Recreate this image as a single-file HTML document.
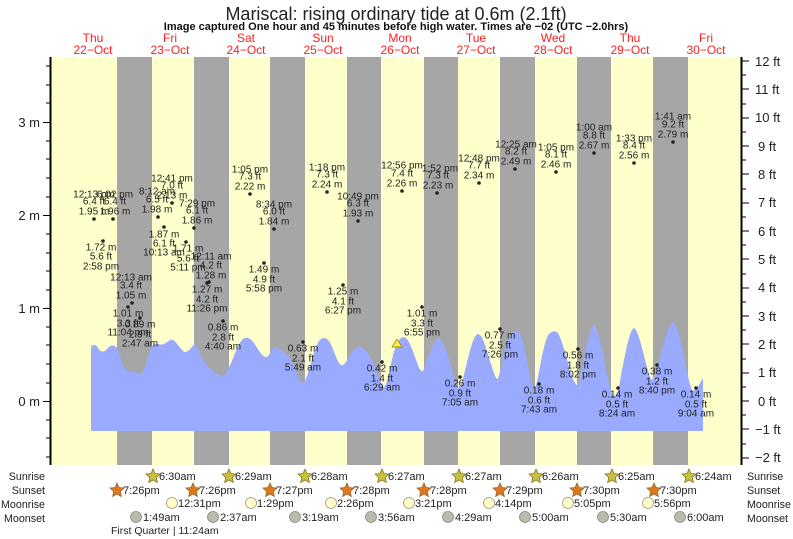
<!DOCTYPE html>
<html><head><meta charset="utf-8"><style>
body{margin:0;background:#fff}
svg{display:block;font-family:"Liberation Sans",sans-serif}
</style></head><body>
<svg width="793" height="539" viewBox="0 0 793 539" xmlns="http://www.w3.org/2000/svg">
<rect x="0" y="0" width="793" height="539" fill="#fff"/>
<text x="396" y="20" font-size="18" text-anchor="middle" fill="#222">Mariscal: rising  ordinary tide at 0.6m (2.1ft)</text>
<text x="396" y="30" font-size="11" font-weight="bold" text-anchor="middle" fill="#111">Image captured One hour and 45 minutes before high water. Times are −02 (UTC −2.0hrs)</text>
<g font-size="12" fill="#ff2020" text-anchor="middle">
<text x="93" y="42">Thu</text><text x="93" y="54">22−Oct</text>
<text x="170" y="42">Fri</text><text x="170" y="54">23−Oct</text>
<text x="246" y="42">Sat</text><text x="246" y="54">24−Oct</text>
<text x="323" y="42">Sun</text><text x="323" y="54">25−Oct</text>
<text x="400" y="42">Mon</text><text x="400" y="54">26−Oct</text>
<text x="476" y="42">Tue</text><text x="476" y="54">27−Oct</text>
<text x="553" y="42">Wed</text><text x="553" y="54">28−Oct</text>
<text x="630" y="42">Thu</text><text x="630" y="54">29−Oct</text>
<text x="706" y="42">Fri</text><text x="706" y="54">30−Oct</text>
</g>
<rect x="50" y="57" width="692" height="408" fill="#ffffcc"/>
<g fill="#a6a6a6">
<rect x="117" y="57" width="35" height="408"/>
<rect x="194" y="57" width="35" height="408"/>
<rect x="270" y="57" width="35" height="408"/>
<rect x="347" y="57" width="34" height="408"/>
<rect x="424" y="57" width="34" height="408"/>
<rect x="500" y="57" width="35" height="408"/>
<rect x="577" y="57" width="34" height="408"/>
<rect x="653" y="57" width="35" height="408"/>
</g>
<path fill="#99aaff" d="M91,431 L91,347 C93,344 96,344 98,348 C100,352 104,353 107,349 C110,345 114,344 117,348 C120,355 122,366 126,370 C130,373 133,371 136,372 C139,374 141,376 144,370 C147,362 149,350 153,345 C157,342 160,346 164,344 C168,342 170,339 173,340 C177,342 181,351 185,352 C189,352 191,347 195,344 C199,350 202,360 207,365 C212,370 218,377 223,376 C230,372 236,345 243,339 C247,336 250,338 254,343 C258,349 263,358 267,357 C270,355 271,349 274,348 C279,347 284,352 288,356 C294,360 298,382 303,383 C308,382 314,343 321,339 C326,336 330,340 334,352 C338,362 340,366 343,365 C347,363 352,349 358,347 C364,346 370,355 375,367 C379,377 381,386 384,387 C388,386 392,352 397,344 C399,340 401,337 404,337 C409,338 413,352 417,362 C419,369 421,372 423,371 C426,366 432,340 438,338 C444,338 451,366 454,377 C456,385 458,388 460,387 C465,378 471,335 478,334 C485,334 492,374 497,379 C500,379 503,352 508,340 C512,332 515,331 518,331 C524,333 530,384 534,390 C537,391 543,340 549,334 C552,331 554,331 557,332 C563,337 571,382 577,385 C582,382 587,330 594,325 C600,327 607,381 612,394 C614,398 616,396 618,391 C622,374 628,330 634,328 C640,330 647,375 652,380 C656,379 666,325 673,322 C680,325 687,380 692,390 C695,393 699,385 703,378 L703,431 Z"/>
<g stroke="#000" stroke-width="1">
<line x1="50.5" y1="57" x2="50.5" y2="465" stroke-width="2"/>
<line x1="741.5" y1="57" x2="741.5" y2="465" stroke-width="2"/>
<line x1="43" y1="122.5" x2="50" y2="122.5"/><line x1="43" y1="215.5" x2="50" y2="215.5"/><line x1="43" y1="308.5" x2="50" y2="308.5"/><line x1="43" y1="401.5" x2="50" y2="401.5"/>
<path d="M46,66h4M46,85h4M46,103h4M46,141h4M46,159h4M46,178h4M46,197h4M46,234h4M46,253h4M46,271h4M46,290h4M46,327h4M46,345h4M46,364h4M46,383h4M46,420h4M46,438h4M46,457h4"/>
<path d="M742,61h7M742,89h7M742,118h7M742,146h7M742,174h7M742,203h7M742,231h7M742,259h7M742,288h7M742,316h7M742,344h7M742,373h7M742,401h7M742,429h7M742,458h7"/>
<path d="M742,75h4M742,104h4M742,132h4M742,160h4M742,189h4M742,217h4M742,245h4M742,274h4M742,302h4M742,330h4M742,359h4M742,387h4M742,415h4M742,444h4"/>
</g>
<g font-size="13" fill="#222" text-anchor="end">
<text x="40" y="127">3 m</text><text x="40" y="220">2 m</text><text x="40" y="313">1 m</text><text x="40" y="406">0 m</text>
</g>
<g font-size="13" fill="#222">
<text x="755" y="66">12 ft</text><text x="755" y="94">11 ft</text><text x="755" y="122">10 ft</text><text x="758" y="151">9 ft</text><text x="758" y="179">8 ft</text><text x="758" y="207">7 ft</text><text x="758" y="236">6 ft</text><text x="758" y="264">5 ft</text><text x="758" y="292">4 ft</text><text x="758" y="321">3 ft</text><text x="758" y="349">2 ft</text><text x="758" y="377">1 ft</text><text x="758" y="406">0 ft</text><text x="755" y="434">−1 ft</text><text x="755" y="462">−2 ft</text>
</g>
<polygon points="397,339 392,347 402,347" fill="#ffee44" stroke="#887700" stroke-width="0.7"/>
<g font-size="10" fill="#222" text-anchor="middle" dominant-baseline="central">
<g>
<circle cx="94" cy="219" r="1.8"/><text x="94" y="195">12:13 pm</text><text x="94" y="202">6.4 ft</text><text x="94" y="212">1.95 m</text>
<circle cx="113" cy="219" r="1.8"/><text x="115" y="195">6:02 pm</text><text x="115" y="202">6.4 ft</text><text x="115" y="212">1.96 m</text>
<circle cx="158" cy="217" r="1.8"/><text x="157" y="192">8:12 am</text><text x="157" y="200">6.5 ft</text><text x="157" y="210">1.98 m</text>
<circle cx="172" cy="203" r="1.8"/><text x="172" y="179">12:41 pm</text><text x="172" y="186">7.0 ft</text><text x="172" y="196">2.13 m</text>
<circle cx="194" cy="228" r="1.8"/><text x="197" y="204">7:29 pm</text><text x="197" y="211">6.1 ft</text><text x="197" y="221">1.86 m</text>
<circle cx="250" cy="194" r="1.8"/><text x="250" y="170">1:05 pm</text><text x="250" y="177">7.3 ft</text><text x="250" y="187">2.22 m</text>
<circle cx="274" cy="229" r="1.8"/><text x="274" y="205">8:34 pm</text><text x="274" y="212">6.0 ft</text><text x="274" y="222">1.84 m</text>
<circle cx="327" cy="192" r="1.8"/><text x="327" y="168">1:18 pm</text><text x="327" y="175">7.3 ft</text><text x="327" y="185">2.24 m</text>
<circle cx="358" cy="221" r="1.8"/><text x="358" y="197">10:49 pm</text><text x="358" y="204">6.3 ft</text><text x="358" y="214">1.93 m</text>
<circle cx="402" cy="191" r="1.8"/><text x="402" y="166">12:56 pm</text><text x="402" y="174">7.4 ft</text><text x="402" y="184">2.26 m</text>
<circle cx="437" cy="193" r="1.8"/><text x="440" y="169">1:52 pm</text><text x="438" y="176">7.3 ft</text><text x="438" y="186">2.23 m</text>
<circle cx="479" cy="183" r="1.8"/><text x="479" y="159">12:48 pm</text><text x="479" y="166">7.7 ft</text><text x="479" y="176">2.34 m</text>
<circle cx="515" cy="169" r="1.8"/><text x="516" y="145">12:25 am</text><text x="516" y="152">8.2 ft</text><text x="516" y="162">2.49 m</text>
<circle cx="556" cy="172" r="1.8"/><text x="556" y="148">1:05 pm</text><text x="556" y="155">8.1 ft</text><text x="556" y="165">2.46 m</text>
<circle cx="594" cy="153" r="1.8"/><text x="594" y="128">1:00 am</text><text x="594" y="136">8.8 ft</text><text x="594" y="146">2.67 m</text>
<circle cx="634" cy="163" r="1.8"/><text x="634" y="139">1:33 pm</text><text x="634" y="146">8.4 ft</text><text x="634" y="156">2.56 m</text>
<circle cx="673" cy="142" r="1.8"/><text x="673" y="117">1:41 am</text><text x="673" y="125">9.2 ft</text><text x="673" y="135">2.79 m</text>
<circle cx="132" cy="303" r="1.8"/><text x="131" y="278">12:13 am</text><text x="131" y="286">3.4 ft</text><text x="131" y="296">1.05 m</text>
<circle cx="209" cy="282" r="1.8"/><text x="211" y="257">12:11 am</text><text x="211" y="266">4.2 ft</text><text x="211" y="276">1.28 m</text>
</g>
<g>
<circle cx="103" cy="241" r="1.8"/><text x="101" y="248">1.72 m</text><text x="101" y="257">5.6 ft</text><text x="101" y="267">2:58 pm</text>
<circle cx="164" cy="227" r="1.8"/><text x="164" y="235">1.87 m</text><text x="164" y="244">6.1 ft</text><text x="164" y="253">10:13 am</text>
<circle cx="186" cy="242" r="1.8"/><text x="188" y="249">1.71 m</text><text x="188" y="259">5.6 ft</text><text x="188" y="268">5:11 pm</text>
<circle cx="128" cy="307" r="1.8"/><text x="128" y="314">1.01 m</text><text x="128" y="324">3.3 ft</text><text x="128" y="333">11:04 pm</text>
<circle cx="140" cy="318" r="1.8"/><text x="140" y="325">0.89 m</text><text x="140" y="335">2.9 ft</text><text x="140" y="344">2:47 am</text>
<circle cx="207" cy="283" r="1.8"/><text x="207" y="290">1.27 m</text><text x="207" y="300">4.2 ft</text><text x="207" y="309">11:26 pm</text>
<circle cx="223" cy="321" r="1.8"/><text x="223" y="328">0.86 m</text><text x="223" y="338">2.8 ft</text><text x="223" y="347">4:40 am</text>
<circle cx="264" cy="263" r="1.8"/><text x="264" y="270">1.49 m</text><text x="264" y="280">4.9 ft</text><text x="264" y="289">5:58 pm</text>
<circle cx="303" cy="342" r="1.8"/><text x="303" y="349">0.63 m</text><text x="303" y="359">2.1 ft</text><text x="303" y="368">5:49 am</text>
<circle cx="343" cy="285" r="1.8"/><text x="343" y="292">1.25 m</text><text x="343" y="302">4.1 ft</text><text x="343" y="311">6:27 pm</text>
<circle cx="382" cy="362" r="1.8"/><text x="382" y="369">0.42 m</text><text x="382" y="379">1.4 ft</text><text x="382" y="388">6:29 am</text>
<circle cx="422" cy="307" r="1.8"/><text x="422" y="314">1.01 m</text><text x="422" y="324">3.3 ft</text><text x="422" y="333">6:55 pm</text>
<circle cx="460" cy="377" r="1.8"/><text x="460" y="384">0.26 m</text><text x="460" y="394">0.9 ft</text><text x="460" y="403">7:05 am</text>
<circle cx="500" cy="329" r="1.8"/><text x="500" y="336">0.77 m</text><text x="500" y="346">2.5 ft</text><text x="500" y="355">7:26 pm</text>
<circle cx="539" cy="384" r="1.8"/><text x="539" y="391">0.18 m</text><text x="539" y="401">0.6 ft</text><text x="539" y="410">7:43 am</text>
<circle cx="578" cy="349" r="1.8"/><text x="578" y="356">0.56 m</text><text x="578" y="366">1.8 ft</text><text x="578" y="375">8:02 pm</text>
<circle cx="618" cy="388" r="1.8"/><text x="617" y="395">0.14 m</text><text x="617" y="405">0.5 ft</text><text x="617" y="414">8:24 am</text>
<circle cx="657" cy="365" r="1.8"/><text x="657" y="372">0.38 m</text><text x="657" y="382">1.2 ft</text><text x="657" y="391">8:40 pm</text>
<circle cx="696" cy="388" r="1.8"/><text x="696" y="395">0.14 m</text><text x="696" y="405">0.5 ft</text><text x="696" y="414">9:04 am</text>
</g>
</g>
<defs>
<polygon id="st" points="0,-7 2,-2.5 7,-2 3.3,1.5 4.3,6.5 0,4 -4.3,6.5 -3.3,1.5 -7,-2 -2,-2.5"/>
</defs>
<g font-size="10.7" fill="#222">
<text x="45" y="480" text-anchor="end">Sunrise</text><text x="45" y="494" text-anchor="end">Sunset</text><text x="45" y="508" text-anchor="end">Moonrise</text><text x="45" y="522" text-anchor="end">Moonset</text>
<text x="747" y="480">Sunrise</text><text x="747" y="494">Sunset</text><text x="747" y="508">Moonrise</text><text x="747" y="522">Moonset</text>
</g>
<g fill="#c8c040" stroke="#887720" stroke-width="0.8">
<use href="#st" x="153" y="476"/><use href="#st" x="229" y="476"/><use href="#st" x="305" y="476"/><use href="#st" x="382" y="476"/><use href="#st" x="459" y="476"/><use href="#st" x="536" y="476"/><use href="#st" x="612" y="476"/><use href="#st" x="689" y="476"/>
</g>
<g fill="#dd7722" stroke="#996633" stroke-width="0.8">
<use href="#st" x="117" y="490"/><use href="#st" x="193" y="490"/><use href="#st" x="270" y="490"/><use href="#st" x="347" y="490"/><use href="#st" x="424" y="490"/><use href="#st" x="500" y="490"/><use href="#st" x="577" y="490"/><use href="#st" x="654" y="490"/>
</g>
<g fill="#ffffcc" stroke="#999977" stroke-width="0.8">
<circle cx="172" cy="503" r="5.5"/><circle cx="251" cy="503" r="5.5"/><circle cx="331" cy="503" r="5.5"/><circle cx="409" cy="503" r="5.5"/><circle cx="489" cy="503" r="5.5"/><circle cx="568" cy="503" r="5.5"/><circle cx="648" cy="503" r="5.5"/>
</g>
<g fill="#bbbbaa" stroke="#888" stroke-width="0.8">
<circle cx="136" cy="517" r="5.5"/><circle cx="213" cy="517" r="5.5"/><circle cx="295" cy="517" r="5.5"/><circle cx="371" cy="517" r="5.5"/><circle cx="448" cy="517" r="5.5"/><circle cx="525" cy="517" r="5.5"/><circle cx="603" cy="517" r="5.5"/><circle cx="680" cy="517" r="5.5"/>
</g>
<g font-size="11" fill="#222">
<text x="159" y="480">6:30am</text><text x="235" y="480">6:29am</text><text x="311" y="480">6:28am</text><text x="388" y="480">6:27am</text><text x="465" y="480">6:27am</text><text x="542" y="480">6:26am</text><text x="618" y="480">6:25am</text><text x="695" y="480">6:24am</text>
<text x="123" y="494">7:26pm</text><text x="199" y="494">7:26pm</text><text x="276" y="494">7:27pm</text><text x="353" y="494">7:28pm</text><text x="430" y="494">7:28pm</text><text x="506" y="494">7:29pm</text><text x="583" y="494">7:30pm</text><text x="660" y="494">7:30pm</text>
<text x="178" y="507">12:31pm</text><text x="257" y="507">1:29pm</text><text x="337" y="507">2:26pm</text><text x="415" y="507">3:21pm</text><text x="495" y="507">4:14pm</text><text x="574" y="507">5:05pm</text><text x="654" y="507">5:56pm</text>
<text x="143" y="521">1:49am</text><text x="220" y="521">2:37am</text><text x="302" y="521">3:19am</text><text x="378" y="521">3:56am</text><text x="455" y="521">4:29am</text><text x="532" y="521">5:00am</text><text x="610" y="521">5:30am</text><text x="687" y="521">6:00am</text>
<text x="111" y="534" font-size="10.5">First Quarter | 11:24am</text>
</g>
</svg>
</body></html>
